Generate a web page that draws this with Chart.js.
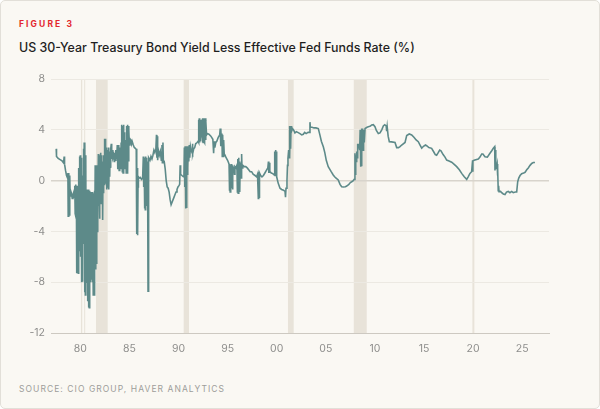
<!DOCTYPE html>
<html>
<head>
<meta charset="utf-8">
<script src="https://cdn.jsdelivr.net/npm/chart.js@4.4.1/dist/chart.umd.min.js"></script>
<style>
  html, body { margin: 0; padding: 0; background: #ffffff; }
  .card {
    position: absolute; left: 0; top: 0; width: 598px; height: 407px;
    border: 1px solid #e2dfd8; border-radius: 5px; background: #faf8f3;
    font-family: Inter, "Noto Sans", sans-serif;
  }
  .fig { position: absolute; left: 18px; top: 18px; font-size: 8.5px; font-weight: 700;
         letter-spacing: 2.1px; color: #e3262e; }
  .title { position: absolute; left: 18px; top: 39px; font-size: 12.4px; font-weight: 500;
           color: #1f1f1f; letter-spacing: 0px; }
  .source { position: absolute; left: 18px; top: 383px; font-size: 8.5px; letter-spacing: 1.05px;
            color: #9d9d9a; }
  canvas { position: absolute; left: 0; top: 0; }
</style>
</head>
<body>
<div class="card">
  <div class="fig">FIGURE 3</div>
  <div class="title">US 30-Year Treasury Bond Yield Less Effective Fed Funds Rate (%)</div>
  <div class="source">SOURCE: CIO GROUP, HAVER ANALYTICS</div>
</div>
<canvas id="chart" width="600" height="409"></canvas>
<script>
// recession shading, [start, end] in decimal years
const recessions = [
  [1980.07, 1980.2], [1980.4, 1980.5], [1981.6, 1982.79], [1990.53, 1991.07],
  [2001.15, 2001.73], [2007.85, 2009.17], [2019.93, 2020.13]
];

const yTicks = [-12, -8, -4, 0, 4, 8];
const xTickYears = [1980, 1985, 1990, 1995, 2000, 2005, 2010, 2015, 2020, 2025];

// 30y yield minus effective fed funds, [decimal year, %]
const spread = [
  [1977.55, 2.5], [1977.58, 1.9], [1977.75, 1.75], [1977.95, 1.65], [1978.15, 1.55], [1978.3, 1.4],
  [1978.36, 1.9], [1978.4, 1.3], [1978.5, 0.8], [1978.6, 0.4], [1978.7, 0.2], [1978.74, 0.6],
  [1978.77, -2.8], [1978.81, 0.5], [1978.85, 0.6], [1978.89, -2.7], [1978.93, 0.4], [1978.97, -1.2],
  [1979.02, -0.8], [1979.1, -1.0], [1979.18, -1.4], [1979.26, -1.1], [1979.34, -0.9], [1979.4, -1.3],
  [1979.44, -0.4], [1979.48, -2.6], [1979.52, -0.3], [1979.56, -2.8], [1979.6, -0.4], [1979.64, -7.3],
  [1979.68, -0.4], [1979.72, -7.2], [1979.76, -0.6], [1979.8, -7.3], [1979.84, 1.0], [1979.88, -5.5],
  [1979.92, 1.9], [1979.96, -3.0], [1980.0, 2.0], [1980.04, -6.0], [1980.08, 1.8], [1980.12, -8.0],
  [1980.16, 1.5], [1980.2, -7.9], [1980.24, 0.4], [1980.28, -3.0], [1980.32, 2.5], [1980.36, -5.0],
  [1980.4, 3.0], [1980.44, -8.8], [1980.48, 3.0], [1980.52, -9.0], [1980.56, 2.0], [1980.6, -8.0],
  [1980.64, -0.7], [1980.68, -6.0], [1980.72, -0.8], [1980.76, -9.5], [1980.8, -0.7], [1980.84, -10.0],
  [1980.88, -1.0], [1980.92, -10.0], [1980.96, -0.8], [1981.0, -7.0], [1981.04, -1.5], [1981.08, -8.0],
  [1981.12, -0.9], [1981.16, -7.8], [1981.2, -1.8], [1981.24, -8.0], [1981.28, -0.9], [1981.32, -9.0],
  [1981.36, -1.0], [1981.4, -9.0], [1981.44, -0.8], [1981.48, -6.0], [1981.52, 1.2], [1981.56, -7.0],
  [1981.6, 1.0], [1981.64, -6.5], [1981.68, 1.2], [1981.72, -4.0], [1981.76, 0.8], [1981.8, -3.1],
  [1981.84, 2.1], [1981.88, -2.0], [1981.92, 2.0], [1981.96, -3.0], [1982.0, 1.8], [1982.04, -1.5],
  [1982.08, 2.2], [1982.12, -1.8], [1982.16, 2.0], [1982.2, -0.5], [1982.24, 1.0], [1982.28, -3.1],
  [1982.32, 1.5], [1982.36, -1.0], [1982.4, 2.0], [1982.44, -0.3], [1982.48, 3.3], [1982.52, 0.0],
  [1982.56, 3.3], [1982.6, -0.1], [1982.64, 2.5], [1982.68, -0.7], [1982.72, 2.6], [1982.76, -0.5],
  [1982.8, 2.4], [1982.84, 0.5], [1982.88, 2.6], [1982.92, -0.7], [1982.96, 2.0], [1983.0, 0.3],
  [1983.04, 2.3], [1983.08, 1.0], [1983.12, 2.5], [1983.16, 2.9], [1983.2, 1.7], [1983.26, 2.4],
  [1983.32, 1.8], [1983.4, 2.0], [1983.46, 1.5], [1983.5, 2.2], [1983.55, 1.6], [1983.62, 2.4],
  [1983.7, 1.7], [1983.77, 2.8], [1983.8, 0.9], [1983.84, 2.6], [1983.88, 1.0], [1983.92, 2.8],
  [1983.96, 0.8], [1984.0, 2.5], [1984.04, 1.5], [1984.08, 2.6], [1984.12, 0.9], [1984.16, 3.0],
  [1984.2, 1.5], [1984.24, 4.4], [1984.28, 0.7], [1984.32, 4.3], [1984.36, 0.6], [1984.4, 4.4],
  [1984.44, 1.0], [1984.48, 3.8], [1984.52, 0.9], [1984.56, 3.2], [1984.6, 1.2], [1984.64, 3.0],
  [1984.68, 0.6], [1984.72, 4.3], [1984.76, 0.6], [1984.8, 4.4], [1984.84, 0.7], [1984.88, 4.3],
  [1984.92, 1.5], [1984.96, 4.0], [1985.0, 2.8], [1985.06, 3.3], [1985.15, 3.2], [1985.22, 2.9],
  [1985.28, 3.1], [1985.4, 2.8], [1985.5, 2.6], [1985.6, 2.55], [1985.7, 2.45], [1985.74, 2.5],
  [1985.76, -4.2], [1985.8, 1.0], [1985.84, -4.3], [1985.88, -0.5], [1985.92, 0.3], [1986.0, 0.2],
  [1986.1, 0.25], [1986.25, 0.1], [1986.35, 0.2], [1986.42, 1.9], [1986.46, -0.5], [1986.5, 1.8],
  [1986.54, -2.2], [1986.58, 1.5], [1986.62, -2.3], [1986.66, 1.9], [1986.7, -0.5], [1986.74, 1.8],
  [1986.78, -2.0], [1986.82, 1.5], [1986.87, -2.2], [1986.9, -8.7], [1986.94, 1.6], [1986.98, 1.8],
  [1987.1, 1.6], [1987.2, 1.9], [1987.3, 1.7], [1987.4, 2.0], [1987.5, 2.4], [1987.6, 2.2],
  [1987.7, 2.5], [1987.76, 3.6], [1987.8, 1.8], [1987.84, 3.5], [1987.88, 1.6], [1987.95, 2.4],
  [1988.05, 2.0], [1988.15, 2.3], [1988.25, 1.6], [1988.32, 2.8], [1988.36, 1.4], [1988.42, 3.0],
  [1988.46, 1.6], [1988.55, 1.5], [1988.65, 0.9], [1988.75, 0.0], [1988.85, -0.5], [1988.95, -0.6],
  [1989.05, -0.9], [1989.15, -1.5], [1989.25, -1.9], [1989.35, -1.7], [1989.45, -1.5], [1989.55, -1.3],
  [1989.65, -1.1], [1989.75, -0.9], [1989.85, -0.7], [1989.95, -0.5], [1990.05, -0.4], [1990.12, -0.3],
  [1990.17, 1.2], [1990.22, 0.5], [1990.35, 0.4], [1990.5, 0.3], [1990.56, 0.5], [1990.6, 2.6],
  [1990.64, -0.5], [1990.68, 2.7], [1990.72, -2.2], [1990.76, 2.6], [1990.8, -2.1], [1990.84, 2.7],
  [1990.88, 0.5], [1990.92, 2.6], [1990.96, 1.0], [1991.0, 2.7], [1991.05, 1.5], [1991.1, 2.8],
  [1991.15, 1.8], [1991.22, 2.7], [1991.3, 2.4], [1991.38, 2.2], [1991.42, 2.9], [1991.46, 2.1],
  [1991.55, 2.5], [1991.65, 2.6], [1991.75, 2.9], [1991.9, 3.0], [1992.0, 3.1], [1992.04, 4.8],
  [1992.08, 3.0], [1992.12, 4.9], [1992.16, 3.0], [1992.2, 4.8], [1992.24, 3.1], [1992.3, 3.8],
  [1992.36, 3.4], [1992.4, 4.8], [1992.44, 3.0], [1992.48, 4.9], [1992.52, 3.0], [1992.56, 4.9],
  [1992.6, 3.1], [1992.64, 4.8], [1992.68, 3.0], [1992.72, 4.9], [1992.76, 3.2], [1992.8, 4.7],
  [1992.86, 3.6], [1992.93, 3.7], [1993.1, 3.65], [1993.3, 3.5], [1993.5, 3.25], [1993.58, 2.15],
  [1993.63, 3.1], [1993.7, 2.6], [1993.8, 3.0], [1993.9, 3.1], [1994.05, 3.4], [1994.2, 3.6],
  [1994.25, 4.1], [1994.29, 2.7], [1994.33, 4.1], [1994.37, 3.0], [1994.42, 3.7], [1994.46, 1.9],
  [1994.5, 3.6], [1994.55, 1.9], [1994.6, 3.2], [1994.66, 2.1], [1994.74, 2.0], [1994.85, 1.8],
  [1995.0, 1.6], [1995.1, 1.4], [1995.15, 1.3], [1995.18, -0.8], [1995.22, 1.3], [1995.26, -0.9],
  [1995.3, 1.2], [1995.34, -0.8], [1995.38, 1.3], [1995.42, -0.6], [1995.46, 1.2], [1995.5, -0.7],
  [1995.55, 1.1], [1995.65, 1.0], [1995.7, 0.5], [1995.75, 1.1], [1995.85, 1.0], [1995.95, 1.2],
  [1996.0, -0.9], [1996.04, 1.7], [1996.08, -1.0], [1996.12, 1.8], [1996.16, -0.8], [1996.2, 1.5],
  [1996.24, -0.9], [1996.28, 1.2], [1996.33, 1.4], [1996.38, 0.2], [1996.43, 2.1], [1996.47, 1.0],
  [1996.55, 1.2], [1996.7, 1.1], [1996.85, 1.1], [1997.0, 1.0], [1997.15, 0.85], [1997.3, 0.7],
  [1997.45, 0.7], [1997.6, 0.5], [1997.8, 0.4], [1997.96, 0.3], [1998.05, 0.5], [1998.13, -1.4],
  [1998.17, 0.7], [1998.21, -1.3], [1998.25, 0.6], [1998.37, 0.4], [1998.5, 0.3], [1998.65, 0.4],
  [1998.8, 0.6], [1998.95, 0.8], [1999.1, 1.0], [1999.16, 1.5], [1999.2, 0.6], [1999.25, 1.4],
  [1999.3, 0.7], [1999.45, 0.6], [1999.6, 0.55], [1999.75, 0.45], [1999.8, 2.3], [1999.84, 0.4],
  [1999.88, 2.4], [1999.92, 0.5], [1999.96, 2.3], [2000.0, 0.3], [2000.15, -0.2], [2000.34, -0.6],
  [2000.5, -0.7], [2000.7, -0.75], [2000.85, -0.85], [2000.9, -1.3], [2000.95, -0.6], [2001.05, 0.05],
  [2001.1, 1.2], [2001.15, 1.75], [2001.22, 2.4], [2001.27, 1.8], [2001.3, 4.3], [2001.34, 1.9],
  [2001.38, 4.2], [2001.42, 2.5], [2001.46, 4.3], [2001.52, 3.9], [2001.6, 4.1], [2001.75, 3.95],
  [2001.86, 3.75], [2002.0, 3.85], [2002.15, 3.8], [2002.37, 3.7], [2002.55, 3.6], [2002.71, 3.65],
  [2002.85, 3.8], [2003.0, 3.7], [2003.2, 3.8], [2003.36, 3.8], [2003.39, 4.6], [2003.43, 4.2],
  [2003.6, 4.2], [2003.8, 4.15], [2004.0, 4.15], [2004.24, 4.1], [2004.4, 3.6], [2004.55, 3.1],
  [2004.75, 2.67], [2004.9, 2.2], [2005.05, 1.6], [2005.25, 1.1], [2005.4, 0.9], [2005.55, 0.7],
  [2005.76, 0.44], [2005.9, 0.3], [2006.05, 0.2], [2006.27, 0.05], [2006.45, -0.3], [2006.62, -0.48],
  [2006.8, -0.5], [2007.0, -0.48], [2007.13, -0.43], [2007.35, -0.3], [2007.5, -0.15], [2007.64, -0.09],
  [2007.8, 0.0], [2007.9, 0.1], [2007.97, 2.15], [2008.0, 0.5], [2008.05, 2.0], [2008.1, 1.5],
  [2008.15, 2.3], [2008.2, 1.8], [2008.25, 2.9], [2008.31, 2.6], [2008.38, 2.9], [2008.45, 2.4],
  [2008.5, 4.0], [2008.54, 1.1], [2008.58, 3.9], [2008.62, 1.2], [2008.66, 4.1], [2008.7, 2.6],
  [2008.75, 4.1], [2008.8, 2.4], [2008.85, 4.0], [2008.92, 3.0], [2009.0, 4.1], [2009.2, 4.2],
  [2009.4, 4.25], [2009.55, 4.3], [2009.67, 4.38], [2009.84, 4.4], [2010.01, 4.24], [2010.15, 3.95],
  [2010.35, 3.7], [2010.52, 3.75], [2010.7, 4.0], [2010.86, 4.3], [2011.0, 4.4], [2011.15, 4.3],
  [2011.2, 3.9], [2011.25, 4.25], [2011.35, 3.5], [2011.47, 3.06], [2011.7, 3.05], [2012.05, 3.0],
  [2012.22, 2.6], [2012.4, 2.6], [2012.56, 2.67], [2012.73, 2.8], [2013.07, 3.0], [2013.24, 3.55],
  [2013.5, 3.67], [2013.75, 3.6], [2014.0, 3.4], [2014.2, 3.2], [2014.42, 3.06], [2014.6, 2.8],
  [2014.77, 2.55], [2014.95, 2.7], [2015.15, 2.8], [2015.27, 2.75], [2015.5, 2.6], [2015.78, 2.54],
  [2016.0, 2.25], [2016.15, 2.05], [2016.29, 2.0], [2016.45, 2.2], [2016.6, 2.4], [2016.73, 2.35],
  [2016.95, 2.05], [2017.14, 1.85], [2017.31, 1.62], [2017.55, 1.55], [2017.82, 1.45], [2018.05, 1.3],
  [2018.33, 1.1], [2018.6, 0.85], [2018.84, 0.57], [2019.1, 0.3], [2019.35, 0.1], [2019.5, 0.3],
  [2019.68, 0.57], [2019.85, 0.7], [2019.95, 1.6], [2019.97, 0.7], [2019.99, 1.55], [2020.1, 1.6],
  [2020.53, 1.7], [2020.7, 1.85], [2020.88, 2.1], [2021.0, 2.1], [2021.21, 1.88], [2021.45, 1.85],
  [2021.72, 2.15], [2021.9, 2.35], [2022.06, 2.54], [2022.2, 2.67], [2022.23, 0.8], [2022.26, 2.4],
  [2022.29, 0.9], [2022.33, 1.2], [2022.4, 1.1], [2022.45, 1.3], [2022.48, 0.4], [2022.52, 1.0],
  [2022.56, -0.8], [2022.6, -0.4], [2022.64, -0.87], [2022.8, -0.85], [2022.91, -0.95], [2023.08, -1.05],
  [2023.25, -1.1], [2023.4, -0.9], [2023.58, -0.85], [2023.75, -0.95], [2023.93, -0.85], [2024.09, -0.95],
  [2024.3, -0.9], [2024.44, -0.9], [2024.54, -0.1], [2024.65, 0.2], [2024.78, 0.4], [2024.95, 0.55],
  [2025.15, 0.6], [2025.29, 0.65], [2025.46, 0.85], [2025.62, 1.0], [2025.8, 1.2], [2025.97, 1.35],
  [2026.13, 1.42], [2026.3, 1.42]
];

// shade the recessions under the grid
const recessionBands = {
  id: 'recessionBands',
  beforeDraw(chart) {
    const { ctx, chartArea, scales } = chart;
    ctx.save();
    ctx.fillStyle = '#e8e3d9';
    recessions.forEach(([a, b]) => {
      const x0 = scales.x.getPixelForValue(a);
      const x1 = scales.x.getPixelForValue(b);
      ctx.fillRect(x0, chartArea.top, x1 - x0, chartArea.bottom - chartArea.top);
    });
    ctx.restore();
  }
};

const tickFont = { family: 'Inter, "Noto Sans", sans-serif', size: 10.5 };

new Chart(document.getElementById('chart'), {
  type: 'line',
  data: {
    datasets: [{
      data: spread.map(([x, y]) => ({ x, y })),
      borderColor: '#5d8a89',
      borderWidth: 1.6,
      pointRadius: 0,
      tension: 0,
      fill: false
    }]
  },
  options: {
    responsive: false,
    animation: false,
    layout: { padding: { top: 79, left: 0, right: 51, bottom: 46 } },
    plugins: { legend: { display: false }, tooltip: { enabled: false } },
    scales: {
      x: {
        type: 'linear',
        min: 1977.02,
        max: 2027.73,
        afterFit(scale) { scale.height = 30; },
        afterBuildTicks(scale) { scale.ticks = xTickYears.map(v => ({ value: v })); },
        grid: { display: false, drawTicks: false },
        border: { display: true, color: '#cdc9c1', width: 1 },
        ticks: {
          padding: 10,
          color: '#8e8e8c',
          font: tickFont,
          maxRotation: 0,
          callback: v => String(v % 100).padStart(2, '0')
        }
      },
      y: {
        min: -12,
        max: 8,
        afterFit(scale) { scale.width = 51; },
        afterBuildTicks(scale) { scale.ticks = yTicks.map(v => ({ value: v })); },
        grid: {
          drawTicks: false,
          color: ctx => ctx.tick && ctx.tick.value === 0 ? '#d8d4cc' : '#ece9e2',
          lineWidth: ctx => ctx.tick && ctx.tick.value === 0 ? 1.6 : 1
        },
        border: { display: false },
        ticks: { padding: 6, color: '#8e8e8c', font: tickFont }
      }
    }
  },
  plugins: [recessionBands]
});
</script>
</body>
</html>
